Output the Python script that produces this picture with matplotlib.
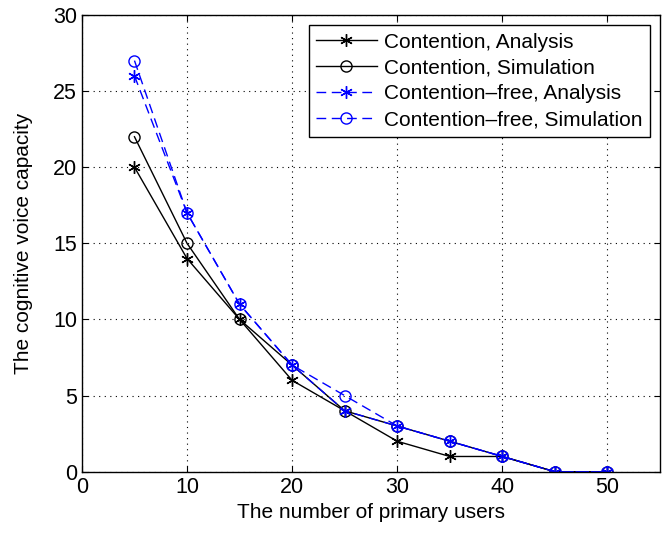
import matplotlib
matplotlib.use('Agg')
import matplotlib.pyplot as plt

plt.rcParams['font.family'] = ['Liberation Sans', 'DejaVu Sans']

## numero de usuarios primarios
users = [5, 10, 15, 20, 25, 30, 35, 40, 45, 50]

## capacidad de voz cognitiva
cont_analysis = [20, 14, 10, 6, 4, 2, 1, 1, 0, 0]
cont_sim = [22, 15, 10, 7, 4, 3, 2, 1, 0, 0]
free_analysis = [26, 17, 11, 7, 4, 3, 2, 1, 0, 0]
free_sim = [27, 17, 11, 7, 5, 3, 2, 1, 0, 0]

star = (6, 2, 0)  # asterisco tipo matlab

fig = plt.figure(figsize=(6.66, 5.33), dpi=100)
ax = fig.add_axes([0.123, 0.115, 0.868, 0.857])

ax.plot(users, cont_analysis, '-', marker=star, color='black', linewidth=1,
        markersize=9, label='Contention, Analysis')
ax.plot(users, cont_sim, '-o', color='black', linewidth=1, markersize=8,
        markerfacecolor='none', label='Contention, Simulation')
ax.plot(users, free_analysis, '--', marker=star, color='blue', linewidth=1,
        markersize=9, dashes=(7, 4), label='Contention\u2013free, Analysis')
ax.plot(users, free_sim, '--o', color='blue', linewidth=1, markersize=8,
        markerfacecolor='none', dashes=(7, 4), label='Contention\u2013free, Simulation')

ax.set_xlim(0, 55)
ax.set_ylim(0, 30)
ax.set_xticks([0, 10, 20, 30, 40, 50])
ax.set_yticks([0, 5, 10, 15, 20, 25, 30])
ax.grid(True, linestyle=(0, (1, 4)), color='black', linewidth=0.8)
ax.tick_params(direction='in', labelsize=15.5, top=True, right=True, length=4)

for side in ['top', 'bottom', 'left', 'right']:
    ax.spines[side].set_linewidth(1)

ax.set_xlabel('The number of primary users', fontsize=15, labelpad=4)
ax.set_ylabel('The cognitive voice capacity', fontsize=15, labelpad=14)

leg = ax.legend(loc='upper right', fontsize=15, fancybox=False, framealpha=1,
                edgecolor='black', handlelength=2.9, borderpad=0.35,
                labelspacing=0.33, handletextpad=0.35, borderaxespad=0.5)
leg.get_frame().set_linewidth(1)

plt.savefig('out.png', dpi=100)
